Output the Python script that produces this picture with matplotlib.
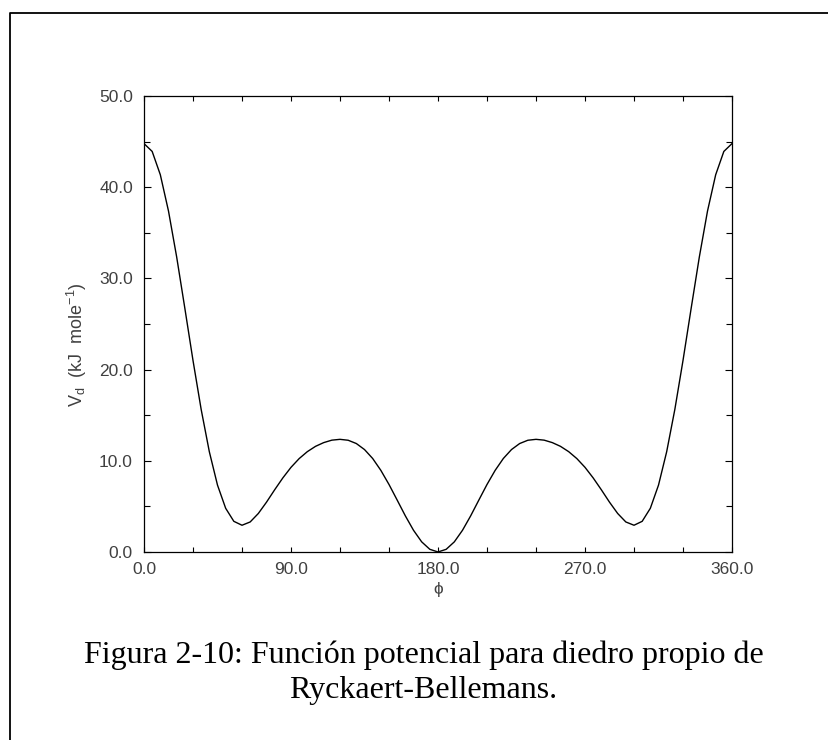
import numpy as np
import matplotlib
matplotlib.use("Agg")
import matplotlib.pyplot as plt
from matplotlib.lines import Line2D
from matplotlib.ticker import MultipleLocator, FuncFormatter

plt.rcParams['font.family'] = ['Liberation Sans', 'DejaVu Sans']
plt.rcParams['mathtext.fontset'] = 'custom'
plt.rcParams['mathtext.rm'] = 'Liberation Sans'
plt.rcParams['mathtext.it'] = 'Liberation Sans:italic'

# dihedral angle (deg) and potential (kJ/mol)
phi = [0, 5, 10, 15, 20, 25, 30, 35, 40, 45, 50, 55, 60, 65, 70, 75, 80, 85,
       90, 95, 100, 105, 110, 115, 120, 125, 130, 135, 140, 145, 150, 155, 160,
       165, 170, 175, 180, 185, 190, 195, 200, 205, 210, 215, 220, 225, 230,
       235, 240, 245, 250, 255, 260, 265, 270, 275, 280, 285, 290, 295, 300,
       305, 310, 315, 320, 325, 330, 335, 340, 345, 350, 355, 360]
v_d = [44.78, 43.92, 41.36, 37.38, 32.35, 26.73, 21.00, 15.63, 10.99, 7.33,
       4.79, 3.36, 2.93, 3.29, 4.22, 5.46, 6.82, 8.12, 9.28, 10.24, 11.00,
       11.58, 11.99, 12.26, 12.35, 12.25, 11.89, 11.23, 10.25, 8.95, 7.40,
       5.69, 3.96, 2.38, 1.11, 0.29, 0.00, 0.29, 1.11, 2.38, 3.96, 5.69, 7.40,
       8.95, 10.25, 11.23, 11.89, 12.25, 12.35, 12.26, 11.99, 11.58, 11.00,
       10.24, 9.28, 8.12, 6.82, 5.46, 4.22, 3.29, 2.93, 3.36, 4.79, 7.33,
       10.99, 15.63, 21.00, 26.73, 32.35, 37.38, 41.36, 43.92, 44.78]

caption = ["Figura 2-10: Función potencial para diedro propio de",
           "Ryckaert-Bellemans."]

fig = plt.figure(figsize=(8.29, 7.40), dpi=100)
ax = fig.add_axes([0.1737, 0.2541, 0.7093, 0.6162])

ax.plot(phi, v_d, color='black', lw=1.0)
ax.set_xlim(0, 360)
ax.set_ylim(0, 50)

ax.xaxis.set_major_locator(MultipleLocator(90))
ax.xaxis.set_minor_locator(MultipleLocator(30))
ax.yaxis.set_major_locator(MultipleLocator(10))
ax.yaxis.set_minor_locator(MultipleLocator(5))
fmt = FuncFormatter(lambda val, pos: '%.1f' % val)
ax.xaxis.set_major_formatter(fmt)
ax.yaxis.set_major_formatter(fmt)

ax.tick_params(which='both', direction='in', top=True, right=True,
               labelsize=12.5, labelcolor='#404040', width=0.8)
ax.tick_params(axis='y', which='major', length=5, pad=8)
ax.tick_params(axis='y', which='minor', length=4)
ax.tick_params(axis='x', which='both', length=3.5, pad=7)
for s in ax.spines.values():
    s.set_linewidth(0.9)

ax.set_xlabel('\u03d5', fontsize=12.5, color='#404040', labelpad=4)
ax.set_ylabel(r'V$_{\mathrm{d}}$  (kJ  mole$^{-1}$)', fontsize=13,
              color='#404040')
ax.yaxis.set_label_coords(-0.094, 0.455)

fig.text(0.511, 1 - 663 / 740, caption[0], ha='center', va='baseline',
         family='Liberation Serif', fontsize=23)
fig.text(0.511, 1 - 698 / 740, caption[1], ha='center', va='baseline',
         family='Liberation Serif', fontsize=23)

# page frame, only top and left edges fall inside the picture
x0 = 10.5 / 829
y0 = 1 - 12.5 / 740
fig.add_artist(Line2D([x0, x0, 1.05], [-0.05, y0, y0],
                      transform=fig.transFigure, color='black', lw=1.3))

fig.savefig('out.png', dpi=100)
